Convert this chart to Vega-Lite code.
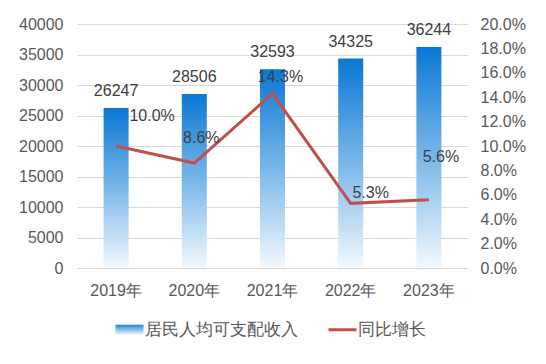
{
  "$schema": "https://vega.github.io/schema/vega-lite/v6.json",
  "width": 391,
  "height": 244,
  "autosize": {"type": "none"},
  "padding": {"left": 77, "top": 24, "right": 78, "bottom": 96},
  "background": "white",
  "config": {
    "view": {"stroke": null},
    "font": "Liberation Sans",
    "axis": {"labelFont": "Liberation Sans", "labelFontSize": 16, "labelColor": "#595959", "ticks": false, "title": null, "labelOverlap": false}
  },
  "data": {
    "values": [
      {"year": "2019年", "income": 26247, "growth": 0.100},
      {"year": "2020年", "income": 28506, "growth": 0.086},
      {"year": "2021年", "income": 32593, "growth": 0.143},
      {"year": "2022年", "income": 34325, "growth": 0.053},
      {"year": "2023年", "income": 36244, "growth": 0.056}
    ]
  },
  "encoding": {
    "x": {
      "field": "year", "type": "nominal", "sort": null,
      "scale": {"paddingInner": 0.68, "paddingOuter": 0.34},
      "axis": {"labelAngle": 0, "labelPadding": 14, "domainColor": "#D9D9D9", "domainWidth": 1}
    }
  },
  "layer": [
    {
      "layer": [
        {
          "mark": {
            "type": "bar",
            "fill": {"gradient": "linear", "x1": 0, "y1": 0, "x2": 0, "y2": 1,
              "stops": [{"offset": 0, "color": "#0A78D4"}, {"offset": 0.5, "color": "#7AB7E8"}, {"offset": 1, "color": "#F3F9FE"}]}
          },
          "encoding": {
            "y": {
              "field": "income", "type": "quantitative",
              "scale": {"domain": [0, 40000]},
              "axis": {"values": [0, 5000, 10000, 15000, 20000, 25000, 30000, 35000, 40000], "tickCount": 20, "format": "d", "grid": true, "gridColor": "#D9D9D9", "domain": false, "labelPadding": 14, "labelOverlap": false}
            }
          }
        },
        {
          "mark": {"type": "text", "baseline": "bottom", "dy": -9, "fontSize": 16, "color": "#404040"},
          "encoding": {
            "y": {"field": "income", "type": "quantitative"},
            "text": {"field": "income", "type": "quantitative", "format": "d"}
          }
        }
      ]
    },
    {
      "layer": [
        {
          "mark": {"type": "line", "strokeWidth": 3},
          "encoding": {
            "y": {
              "field": "growth", "type": "quantitative",
              "scale": {"domain": [0, 0.2]},
              "axis": {"orient": "right", "values": [0, 0.02, 0.04, 0.06, 0.08, 0.1, 0.12, 0.14, 0.16, 0.18, 0.2], "tickCount": 20, "format": ".1%", "grid": false, "domain": false, "labelPadding": 12, "labelOverlap": false}
            },
            "color": {
              "datum": "同比增长",
              "scale": {"domain": ["居民人均可支配收入", "同比增长"], "range": ["#2E8EDC", "#C0504D"]},
              "legend": {
                "title": null,
                "orient": "none",
                "direction": "horizontal",
                "legendX": 44,
                "legendY": 297,
                "symbolType": "stroke",
                "symbolSize": 784,
                "symbolStrokeWidth": 3,
                "columnPadding": 24,
                "labelOffset": 7,
                "labelFont": "Liberation Sans",
                "labelFontSize": 17,
                "labelColor": "#595959",
                "labelLimit": 300,
                "encode": {
                  "symbols": {
                    "update": {
                      "shape": {"signal": "datum.value === '同比增长' ? 'stroke' : 'M-1,-0.36H1V0.36H-1Z'"},
                      "fill": {"signal": "datum.value === '同比增长' ? 'transparent' : {gradient: 'linear', x1: 0, y1: 0, x2: 0, y2: 1, stops: [{offset: 0, color: '#1E86DA'}, {offset: 1, color: '#F5FAFE'}]}"},
                      "strokeWidth": {"signal": "datum.value === '同比增长' ? 3 : 0"}
                    }
                  }
                }
              }
            }
          }
        },
        {
          "transform": [{"filter": "datum.year === '2019年'"}],
          "mark": {"type": "text", "dx": 36, "dy": -30, "fontSize": 16, "color": "#404040"},
          "encoding": {"y": {"field": "growth", "type": "quantitative"}, "text": {"field": "growth", "type": "quantitative", "format": ".1%"}}
        },
        {
          "transform": [{"filter": "datum.year === '2020年'"}],
          "mark": {"type": "text", "dx": 7, "dy": -25, "fontSize": 16, "color": "#404040"},
          "encoding": {"y": {"field": "growth", "type": "quantitative"}, "text": {"field": "growth", "type": "quantitative", "format": ".1%"}}
        },
        {
          "transform": [{"filter": "datum.year === '2021年'"}],
          "mark": {"type": "text", "dx": 8, "dy": -17, "fontSize": 16, "color": "#404040"},
          "encoding": {"y": {"field": "growth", "type": "quantitative"}, "text": {"field": "growth", "type": "quantitative", "format": ".1%"}}
        },
        {
          "transform": [{"filter": "datum.year === '2022年'"}],
          "mark": {"type": "text", "dx": 20, "dy": -10, "fontSize": 16, "color": "#404040"},
          "encoding": {"y": {"field": "growth", "type": "quantitative"}, "text": {"field": "growth", "type": "quantitative", "format": ".1%"}}
        },
        {
          "transform": [{"filter": "datum.year === '2023年'"}],
          "mark": {"type": "text", "dx": 12, "dy": -43, "fontSize": 16, "color": "#404040"},
          "encoding": {"y": {"field": "growth", "type": "quantitative"}, "text": {"field": "growth", "type": "quantitative", "format": ".1%"}}
        }
      ]
    }
  ],
  "resolve": {"scale": {"y": "independent"}}
}
